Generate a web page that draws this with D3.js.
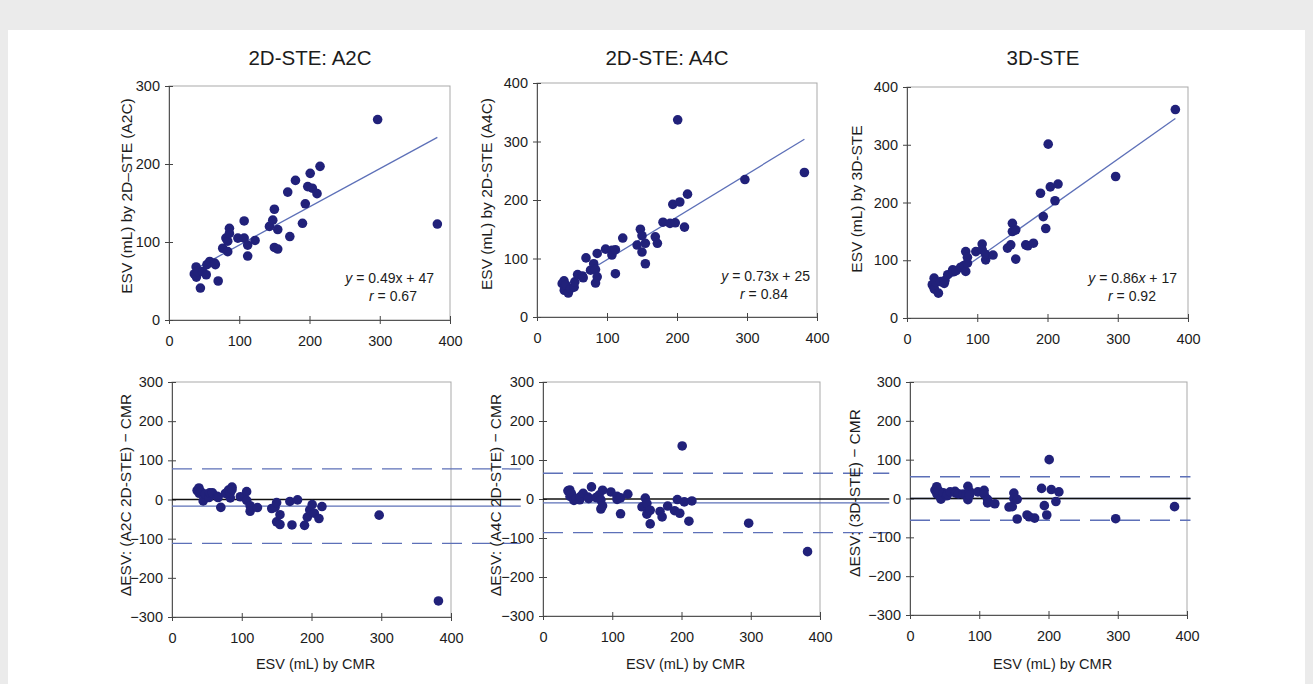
<!DOCTYPE html>
<html>
<head>
<meta charset="utf-8">
<script src="https://cdn.jsdelivr.net/npm/d3@7"></script>
<style>
  body { margin: 0; background: #ebebeb; }
  svg text { font-family: "Liberation Sans", Arial, sans-serif; fill: #1c1c1c; }
</style>
</head>
<body>
<div id="chart"></div>
<script>
// ESV (mL) by CMR, one value per patient (x axis of every panel)
const cmrEsv = [36, 38.6, 39, 41, 44.7, 48, 53, 54, 58, 65, 66, 70, 76.5, 81, 83.6, 83.6, 86, 86, 98, 107,
  107, 112, 112, 122.5, 143, 147.7, 150, 150, 154.8, 154.8, 169, 172, 180, 190, 194, 197.5, 201, 204, 210.7, 215, 297, 382];
// ESV (mL) by each echo method, same patient order
const a2cEsv = [59, 68, 55, 62, 41, 62, 58, 71, 75, 73, 71, 50, 92, 105, 87.6, 101, 117.5, 111, 105, 127,
  105, 96, 82, 102, 120, 128, 142, 93, 116, 91, 164, 107, 179, 124, 149, 171, 188, 169, 162, 197, 257, 123];
const a4cEsv = [57, 61.7, 45.7, 55, 41, 48.6, 51, 60, 72.6, 70, 67, 101, 80, 91, 58, 81, 108.6, 68.6, 116, 114,
  106, 115, 74, 135, 123, 150, 139, 111, 126, 91, 137, 126, 162, 160, 192.6, 161, 337, 196.6, 153.7, 210, 235, 247];
const ste3dEsv = [57.6, 69, 50, 62, 43, 63, 60, 65, 75, 83.5, 80, 82, 88, 91, 115, 80.6, 105, 95, 115, 128,
  118, 100.7, 110, 109, 121, 126.7, 164, 149.7, 152.6, 102, 126.7, 125, 129.5, 216, 175.6, 155, 301, 227, 203, 232, 245, 361];

const panelTitles = ["2D-STE: A2C", "2D-STE: A4C", "3D-STE"];
const topYTitles = ["ESV (mL) by 2D\u2013STE (A2C)", "ESV (mL) by 2D-STE (A4C)", "ESV (mL) by 3D-STE"];
const bottomYTitles = ["\u0394ESV: (A2C 2D-STE) \u2212 CMR", "\u0394ESV: (A4C 2D-STE) \u2212 CMR", "\u0394ESV: (3D-STE) \u2212 CMR"];
const bottomXTitle = "ESV (mL) by CMR";

const topYMax = [300, 400, 400];
const xTicks = [0, 100, 200, 300, 400];
const diffTicks = [-300, -200, -100, 0, 100, 200, 300];

// regression y = slope*x + intercept, correlation r
const fitSlope = [0.49, 0.73, 0.86];
const fitIntercept = [47, 25, 17];
const fitR = ["0.67", "0.84", "0.92"];

// Bland-Altman: mean difference and limits of agreement
const baMean = [-17, -10, 0];
const baUpper = [78, 66, 56];
const baLower = [-112, -86, -56];
const baLineEnd = [500, 500, 405];

const methods = [a2cEsv, a4cEsv, ste3dEsv];

// panel geometry
const topBoxes = [
  { x0: 169, x1: 450, y0: 320, y1: 86, ytx: 127, yty: 196, eqx: 434, rx: 393, eqy: 283 },
  { x0: 537, x1: 817, y0: 317, y1: 83, ytx: 487, yty: 194, eqx: 810, rx: 764, eqy: 281 },
  { x0: 907, x1: 1188, y0: 318, y1: 87, ytx: 857, yty: 199, eqx: 1177, rx: 1132, eqy: 283 }
];
const botBoxes = [
  { x0: 172, x1: 451, y0: 617, y1: 382, ytx: 126, yty: 495 },
  { x0: 543, x1: 820, y0: 616, y1: 382, ytx: 496, yty: 495 },
  { x0: 910, x1: 1187, y0: 615, y1: 382, ytx: 855, yty: 493 }
];
const titleX = [310, 667, 1043];

const dotColor = "#21217a";
const blue = "#5d70b8";

const svg = d3.select("#chart").append("svg")
  .attr("width", 1313)
  .attr("height", 684);

svg.append("rect")
  .attr("x", 8).attr("y", 30)
  .attr("width", 1297).attr("height", 654)
  .attr("fill", "#fff");

function frame(g, b, x, y, yTicks) {
  g.append("rect")
    .attr("x", b.x0).attr("y", b.y1)
    .attr("width", b.x1 - b.x0).attr("height", b.y0 - b.y1)
    .attr("fill", "none")
    .attr("stroke", "#a9a9a9");

  const xa = g.append("g")
    .attr("transform", `translate(0,${b.y0})`)
    .call(d3.axisBottom(x).tickValues(xTicks).tickSizeInner(4).tickSizeOuter(0).tickPadding(12));
  xa.selectAll(".tick line").attr("y1", -4);

  const ya = g.append("g")
    .attr("transform", `translate(${b.x0},0)`)
    .call(d3.axisLeft(y).tickValues(yTicks).tickSizeInner(4).tickSizeOuter(0).tickPadding(5));
  ya.selectAll(".tick line").attr("x1", 4);

  [xa, ya].forEach(a => {
    a.attr("font-family", null).attr("font-size", null);
    a.select(".domain").attr("stroke", "#555");
    a.selectAll(".tick line").attr("stroke", "#444");
    a.selectAll(".tick text").style("font-size", "14.5px");
  });
}

function yTitle(g, tx, ty, label) {
  g.append("text")
    .attr("transform", `translate(${tx},${ty}) rotate(-90)`)
    .attr("text-anchor", "middle")
    .attr("dy", "0.35em")
    .style("font-size", "15.5px")
    .text(label);
}

methods.forEach((vals, i) => {
  const pts = cmrEsv.map((c, k) => ({ cmr: c, v: vals[k], d: vals[k] - c }));

  // ---- top: scatter with regression ----
  const b = topBoxes[i];
  const g = svg.append("g");
  const x = d3.scaleLinear().domain([0, 400]).range([b.x0, b.x1]);
  const y = d3.scaleLinear().domain([0, topYMax[i]]).range([b.y0, b.y1]);
  frame(g, b, x, y, d3.range(0, topYMax[i] + 1, 100));

  g.append("text")
    .attr("x", titleX[i]).attr("y", 65)
    .attr("text-anchor", "middle")
    .style("font-size", "20.5px")
    .text(panelTitles[i]);
  yTitle(g, b.ytx, b.yty, topYTitles[i]);

  const xr = d3.extent(cmrEsv);
  g.append("line")
    .attr("x1", x(xr[0])).attr("y1", y(fitSlope[i] * xr[0] + fitIntercept[i]))
    .attr("x2", x(xr[1])).attr("y2", y(fitSlope[i] * xr[1] + fitIntercept[i]))
    .attr("stroke", blue)
    .attr("stroke-width", 1.3);

  g.selectAll(".dot")
    .data(pts)
    .join("circle")
    .attr("class", "dot")
    .attr("cx", d => x(d.cmr))
    .attr("cy", d => y(d.v))
    .attr("r", 4.8)
    .attr("fill", dotColor);

  const eq = g.append("text")
    .attr("x", b.eqx).attr("y", b.eqy)
    .attr("text-anchor", "end")
    .style("font-size", "14px");
  eq.append("tspan").style("font-style", "italic").text("y");
  eq.append("tspan").text(` = ${fitSlope[i]}`);
  eq.append("tspan").style("font-style", i === 2 ? "italic" : "normal").text("x");
  eq.append("tspan").text(` + ${fitIntercept[i]}`);

  const rt = g.append("text")
    .attr("x", b.rx).attr("y", b.eqy + 18)
    .attr("text-anchor", "middle")
    .style("font-size", "14px");
  rt.append("tspan").style("font-style", "italic").text("r");
  rt.append("tspan").text(` = ${fitR[i]}`);

  // ---- bottom: Bland-Altman ----
  const bb = botBoxes[i];
  const gb = svg.append("g");
  const xb = d3.scaleLinear().domain([0, 400]).range([bb.x0, bb.x1]);
  const yb = d3.scaleLinear().domain([-300, 300]).range([bb.y0, bb.y1]);
  frame(gb, bb, xb, yb, diffTicks);
  yTitle(gb, bb.ytx, bb.yty, bottomYTitles[i]);

  gb.append("text")
    .attr("x", (bb.x0 + bb.x1) / 2 + 4).attr("y", 669)
    .attr("text-anchor", "middle")
    .style("font-size", "14.5px")
    .text(bottomXTitle);

  const hlines = [
    { v: baUpper[i], c: blue, dash: "20,10" },
    { v: baLower[i], c: blue, dash: "20,10" },
    { v: baMean[i], c: blue, dash: null },
    { v: 0, c: "#111", dash: null }
  ];
  gb.selectAll(".hl")
    .data(hlines)
    .join("line")
    .attr("class", "hl")
    .attr("x1", xb(0)).attr("x2", xb(baLineEnd[i]))
    .attr("y1", d => yb(d.v)).attr("y2", d => yb(d.v))
    .attr("stroke", d => d.c)
    .attr("stroke-width", 1.3)
    .attr("stroke-dasharray", d => d.dash);

  gb.selectAll(".dot")
    .data(pts)
    .join("circle")
    .attr("class", "dot")
    .attr("cx", d => xb(d.cmr))
    .attr("cy", d => yb(d.d))
    .attr("r", 4.8)
    .attr("fill", dotColor);
});
</script>
</body>
</html>
